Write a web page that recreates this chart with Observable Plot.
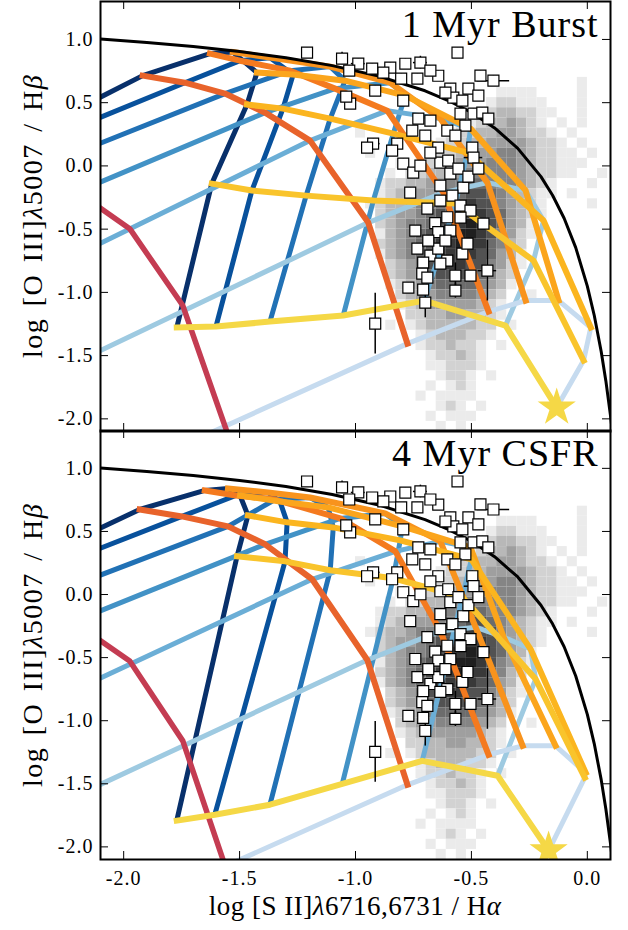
<!DOCTYPE html>
<html>
<head>
<meta charset="utf-8">
<script src="https://cdn.jsdelivr.net/npm/d3@7"></script>
<script src="https://cdn.jsdelivr.net/npm/@observablehq/plot@0.6"></script>
<style>
  html, body { margin: 0; padding: 0; background: #fff; }
  #fig { position: relative; width: 628px; height: 930px; font-family: "Liberation Serif", "Times New Roman", serif; color: #000; }
  .panel { position: absolute; left: 0; }
  .ylab, .xlab { position: absolute; white-space: nowrap; line-height: 1; }
  .ylab { left: 33px; font-size: 28px; letter-spacing: 1.5px; word-spacing: 3px; transform: translate(-50%, -50%) rotate(-90deg); }
  .xlab { left: 355px; top: 906px; font-size: 27px; letter-spacing: 0.5px; transform: translate(-50%, -50%); }
</style>
</head>
<body>
<div id="fig"></div>
<script>
// ---------------- data ----------------
const xDomain = [-2.1, 0.1];
const yDomain = [-2.1, 1.3];
const xTicks = [-2.0, -1.5, -1.0, -0.5, 0.0];
const yTicks = [1.0, 0.5, 0.0, -0.5, -1.0, -1.5, -2.0];
const panelTitles = ["1 Myr Burst", "4 Myr CSFR"];

const blueColors = ["#08306b", "#08519c", "#2171b5", "#4292c6", "#6baed6", "#9ecae1", "#c6dbef"];
const orangeColors = [null, "#e8632b", "#f47a1f", "#f8931d", "#fba51c", "#fbb51f", "#f9c42c", "#f5d846"];
const redColor = "#c43c52";
const starColor = "#f5d846";

// model grid, 1 Myr burst: 7 blue lines, each 8 vertices (0 = start, 1..7 on the orange lines)
const burstGrid = [
  [[-2.147, 0.500], [-1.918, 0.714], [-1.628, 0.888], [-1.529, 0.900], [-1.425, 0.738], [-1.468, 0.485], [-1.620, -0.140], [-1.771, -1.278]],
  [[-2.147, 0.349], [-1.736, 0.658], [-1.498, 0.832], [-1.369, 0.856], [-1.269, 0.722], [-1.313, 0.453], [-1.447, -0.195], [-1.602, -1.270]],
  [[-2.147, 0.145], [-1.563, 0.572], [-1.282, 0.753], [-1.109, 0.785], [-1.045, 0.674], [-1.109, 0.374], [-1.213, -0.235], [-1.369, -1.231]],
  [[-2.147, -0.164], [-1.390, 0.421], [-1.088, 0.611], [-0.850, 0.658], [-0.785, 0.556], [-0.837, 0.255], [-0.923, -0.274], [-1.053, -1.183]],
  [[-2.147, -0.654], [-1.196, 0.200], [-0.863, 0.437], [-0.634, 0.374], [-0.504, 0.295], [-0.517, 0.105], [-0.569, -0.298], [-0.703, -1.065]],
  [[-2.147, -1.500], [-0.945, -0.448], [-0.621, -0.211], [-0.431, -0.132], [-0.266, -0.195], [-0.189, -0.432], [-0.232, -0.749], [-0.353, -1.262]],
  [[-1.671, -2.148], [-0.776, -1.405], [-0.426, -1.152], [-0.266, -1.065], [-0.124, -1.065], [0.015, -1.278], [-0.016, -1.539], [-0.132, -1.911]]
];
const burstRed = [[-2.320, 0.042], [-2.203, -0.203], [-1.974, -0.496], [-1.745, -1.104], [-1.555, -2.100], [-1.520, -2.290]];
const burstStar = [-0.132, -1.911];

// model grid, 4 Myr CSFR
const csfrGrid = [
  [[-2.147, 0.487], [-1.931, 0.674], [-1.650, 0.825], [-1.550, 0.840], [-1.498, 0.785], [-1.464, 0.627], [-1.511, 0.303], [-1.771, -1.792]],
  [[-2.147, 0.334], [-1.749, 0.619], [-1.516, 0.785], [-1.377, 0.809], [-1.326, 0.738], [-1.295, 0.572], [-1.304, 0.263], [-1.607, -1.745]],
  [[-2.147, 0.121], [-1.550, 0.540], [-1.347, 0.753], [-1.196, 0.769], [-1.118, 0.690], [-1.096, 0.532], [-1.109, 0.192], [-1.369, -1.666]],
  [[-2.147, -0.164], [-1.390, 0.398], [-1.066, 0.603], [-0.872, 0.643], [-0.798, 0.540], [-0.807, 0.429], [-0.837, 0.129], [-1.057, -1.500]],
  [[-2.147, -0.701], [-1.187, 0.121], [-0.828, 0.342], [-0.634, 0.421], [-0.504, 0.374], [-0.500, 0.279], [-0.539, -0.021], [-0.712, -1.318]],
  [[-2.147, -1.545], [-0.949, -0.519], [-0.634, -0.290], [-0.482, -0.259], [-0.361, -0.338], [-0.245, -0.432], [-0.223, -0.670], [-0.387, -1.436]],
  [[-1.671, -2.243], [-0.776, -1.508], [-0.426, -1.270], [-0.279, -1.199], [-0.137, -1.199], [-0.007, -1.413], [-0.011, -1.452], [-0.167, -2.029]]
];
const csfrRed = [[-2.320, -0.022], [-2.203, -0.235], [-1.974, -0.527], [-1.745, -1.160], [-1.572, -2.100], [-1.529, -2.345]];
const csfrStar = [-0.167, -2.029];

// maximum starburst line (black)
const kewleyX = [-2.2, -2.1, -1.9, -1.7, -1.5, -1.3, -1.1, -0.9, -0.7, -0.6, -0.5, -0.4, -0.3, -0.2, -0.15, -0.1, -0.05, 0.0, 0.03, 0.06, 0.08, 0.1, 0.12];
const kewleyY = [1.014, 1.003, 0.976, 0.944, 0.904, 0.856, 0.793, 0.710, 0.594, 0.517, 0.422, 0.300, 0.139, -0.085, -0.232, -0.414, -0.646, -0.950, -1.183, -1.469, -1.700, -1.973, -2.300];

// SDSS 2D histogram: gray level per cell (0 = empty), rows from top (high y) to bottom
const histX0 = -1.0, histDX = 0.0435, histY0 = -2.1, histDY = 0.08;
const histRows = [
  "000000000000000000000000000",
  "000000000000000000000010000",
  "000000000000001111000010000",
  "000000000000012211100010000",
  "000000000000123322110010000",
  "000000000001233432101010000",
  "100000000122334432210100000",
  "000000001223344443221010000",
  "010000012233445543221101000",
  "000010123344455543221110000",
  "000102233445555543221100100",
  "001223344556655543210001000",
  "001233445667765432110100000",
  "012334556778775432100001000",
  "002344567788876432100000000",
  "002345567889876431000000000",
  "001345677899875421000000000",
  "002345678898865320000000000",
  "001345678888764310000000000",
  "000234677887754210000000000",
  "000234567777653200000000000",
  "000123456666543100000000000",
  "000023445555432001000000000",
  "000012344444321000000000000",
  "000002233443321000000000000",
  "000101233333220100000000000",
  "000000123332210000000000000",
  "000000122322101000000000000",
  "000000012232100000000000000",
  "000000011222100000000000000",
  "000000001221010000000000000",
  "000000010121000000000000000",
  "000000101111000000000000000",
  "000000001210100000000000000",
  "000000010111000000000000000",
  "000000001010000000000000000"
];

// observed galaxies: [x, y, xerr, yerr]
const obsPoints = [
  [-1.209, 0.896, 0.02, 0.04], [-1.058, 0.849, 0.02, 0.05], [-0.988, 0.809, 0.03, 0.04], [-1.027, 0.753, 0.02, 0.04],
  [-1.023, 0.492, 0.02, 0.04], [-1.040, 0.548, 0.02, 0.04], [-0.850, 0.777, 0.02, 0.04], [-0.720, 0.817, 0.03, 0.05],
  [-0.560, 0.896, 0.02, 0.04], [-0.405, 0.674, 0.07, 0.04], [-0.643, 0.713, 0.02, 0.04], [-0.591, 0.611, 0.02, 0.04],
  [-0.513, 0.611, 0.02, 0.04], [-0.578, 0.540, 0.02, 0.04], [-0.491, 0.413, 0.02, 0.04], [-0.880, 0.738, 0.02, 0.04],
  [-0.803, 0.690, 0.02, 0.04], [-0.733, 0.690, 0.02, 0.04], [-0.794, 0.516, 0.02, 0.04], [-0.729, 0.374, 0.02, 0.04],
  [-0.677, 0.358, 0.02, 0.04], [-0.924, 0.176, 0.03, 0.04], [-0.950, 0.145, 0.02, 0.04], [-0.820, 0.176, 0.02, 0.04],
  [-0.794, 0.018, 0.02, 0.04], [-0.751, -0.053, 0.02, 0.04], [-0.634, 0.026, 0.02, 0.04], [-0.600, 0.042, 0.02, 0.04],
  [-0.604, 0.279, 0.02, 0.04], [-0.547, 0.413, 0.02, 0.04], [-0.764, -0.211, 0.02, 0.04], [-0.690, -0.338, 0.02, 0.04],
  [-0.496, 0.145, 0.02, 0.04], [-0.491, 0.066, 0.04, 0.04], [-0.643, 0.145, 0.02, 0.04], [-0.591, -0.061, 0.02, 0.04],
  [-0.535, -0.172, 0.02, 0.04], [-0.656, -0.453, 0.02, 0.04], [-0.604, -0.406, 0.02, 0.04], [-0.643, -0.524, 0.02, 0.04],
  [-0.733, -0.654, 0.02, 0.04], [-0.677, -0.709, 0.02, 0.04], [-0.604, -0.749, 0.02, 0.04], [-0.643, -0.654, 0.02, 0.04],
  [-0.708, -0.765, 0.02, 0.04], [-0.712, -0.852, 0.02, 0.04], [-0.690, -0.883, 0.02, 0.04], [-0.772, -0.962, 0.02, 0.04],
  [-0.708, -0.978, 0.02, 0.04], [-0.699, -1.081, 0.02, 0.12], [-0.569, -0.867, 0.02, 0.10], [-0.539, -0.693, 0.02, 0.04],
  [-0.431, -0.828, 0.04, 0.24], [-0.915, -1.247, 0.02, 0.24], [-0.928, 0.769, 0.02, 0.04], [-0.612, 0.579, 0.02, 0.04],
  [-0.539, 0.516, 0.02, 0.04], [-0.470, 0.556, 0.02, 0.04], [-0.453, 0.421, 0.02, 0.04], [-0.526, 0.318, 0.02, 0.04],
  [-0.569, 0.239, 0.02, 0.04], [-0.427, 0.374, 0.02, 0.04], [-0.699, 0.239, 0.02, 0.04], [-0.755, 0.279, 0.02, 0.04],
  [-0.842, 0.121, 0.02, 0.04], [-0.677, 0.105, 0.02, 0.04], [-0.720, 0.002, 0.02, 0.04], [-0.556, -0.021, 0.02, 0.04],
  [-0.513, -0.084, 0.02, 0.04], [-0.634, -0.156, 0.02, 0.04], [-0.582, -0.235, 0.02, 0.04], [-0.470, -0.021, 0.02, 0.04],
  [-0.634, -0.274, 0.02, 0.04], [-0.547, -0.314, 0.02, 0.04], [-0.504, -0.354, 0.02, 0.04], [-0.591, -0.512, 0.02, 0.04],
  [-0.612, -0.591, 0.02, 0.04], [-0.547, -0.409, 0.02, 0.04], [-0.517, -0.614, 0.02, 0.04], [-0.448, -0.456, 0.02, 0.04],
  [-0.634, -0.772, 0.02, 0.04], [-0.569, -0.986, 0.02, 0.06], [-0.504, -0.867, 0.02, 0.04], [-0.742, -0.511, 0.02, 0.04],
  [-0.686, -0.591, 0.02, 0.04], [-0.785, 0.808, 0.02, 0.04], [-0.677, 0.753, 0.02, 0.04], [-0.461, 0.714, 0.02, 0.04],
  [-0.915, 0.595, 0.02, 0.04]
];

// ---------------- build ----------------
const kewley = kewleyX.map((x, k) => [x, kewleyY[k]]);
const histCells = [];
histRows.forEach((row, k) => {
  const r = histRows.length - 1 - k;
  [...row].forEach((ch, c) => {
    const v = +ch;
    if (v > 0) histCells.push({x1: histX0 + c * histDX, x2: histX0 + (c + 1) * histDX, y1: histY0 + r * histDY, y2: histY0 + (r + 1) * histDY, v});
  });
});
const obs = obsPoints.map(([x, y, ex, ey]) => ({x, y, ex, ey}));

const W = 628, ML = 100, MR = 18, MT = 1;
const px = d => d[0], py = d => d[1];
const fmt = d => d.toFixed(1);

function makePanel({grid, red, star, title, showX}) {
  const MB = showX ? 71 : 1;
  const H = showX ? 501 : 432;
  const frameH = H - MT - MB;
  const frameW = W - ML - MR;
  const marks = [
    Plot.rect(histCells, {x1: "x1", x2: "x2", y1: "y1", y2: "y2", fill: "v", clip: true}),
    ...grid.map((row, i) => Plot.line(row, {x: px, y: py, stroke: blueColors[i], strokeWidth: 5, strokeLinejoin: "round", strokeLinecap: "butt", clip: true})),
    Plot.line(red, {x: px, y: py, stroke: redColor, strokeWidth: 5.5, strokeLinejoin: "round", clip: true}),
    ...[1, 2, 3, 4, 5, 6, 7].map(j => Plot.line(grid.map(r => r[j]), {x: px, y: py, stroke: orangeColors[j], strokeWidth: 6, strokeLinejoin: "round", strokeLinecap: "square", clip: true})),
    Plot.line(kewley, {x: px, y: py, stroke: "black", strokeWidth: 3, clip: true}),
    Plot.ruleX(obs, {x: "x", y1: d => d.y - d.ey, y2: d => d.y + d.ey, stroke: "black", strokeWidth: 1.5, clip: true}),
    Plot.ruleY(obs, {y: "y", x1: d => d.x - d.ex, x2: d => d.x + d.ex, stroke: "black", strokeWidth: 1.5, clip: true}),
    Plot.dot(obs, {x: "x", y: "y", symbol: "square", r: 6.2, fill: "white", stroke: "black", strokeWidth: 1.2, clip: true}),
    Plot.dot([star], {x: px, y: py, symbol: "star", r: 12, fill: starColor, clip: true}),
    Plot.ruleX(xTicks, {x: d => d, insetTop: frameH - 8, stroke: "black", strokeWidth: 1}),
    Plot.ruleX(xTicks, {x: d => d, insetBottom: frameH - 8, stroke: "black", strokeWidth: 1}),
    Plot.ruleY(yTicks, {y: d => d, insetRight: frameW - 8, stroke: "black", strokeWidth: 1}),
    Plot.ruleY(yTicks, {y: d => d, insetLeft: frameW - 8, stroke: "black", strokeWidth: 1}),
    Plot.frame({stroke: "black", strokeWidth: 2}),
    Plot.axisY({ticks: yTicks, tickSize: 0, tickPadding: 7, tickFormat: fmt, label: null}),
    Plot.text([title], {frameAnchor: "top-right", dx: -12, dy: 9, lineAnchor: "top", textAnchor: "end", fontSize: 38, fontFamily: "Liberation Serif", letterSpacing: 1.5})
  ];
  if (showX) marks.push(Plot.axisX({ticks: xTicks, tickSize: 0, tickPadding: 11, tickFormat: fmt, label: null}));
  return Plot.plot({
    width: W, height: H,
    marginLeft: ML, marginRight: MR, marginTop: MT, marginBottom: MB,
    x: {domain: xDomain, axis: showX ? undefined : null},
    y: {domain: yDomain},
    color: {type: "linear", domain: [1, 9], range: ["#ebebeb", "#1f1f1f"]},
    style: {background: "transparent", fontFamily: "Liberation Serif", fontSize: "20px", color: "black", overflow: "visible"},
    marks
  });
}

const fig = document.getElementById("fig");
const p1 = makePanel({grid: burstGrid, red: burstRed, star: burstStar, title: panelTitles[0], showX: false});
p1.classList.add("panel"); p1.style.top = "0px";
const p2 = makePanel({grid: csfrGrid, red: csfrRed, star: csfrStar, title: panelTitles[1], showX: true});
p2.classList.add("panel"); p2.style.top = "429px";
fig.appendChild(p1);
fig.appendChild(p2);
p1.querySelectorAll("text").forEach(t => t.setAttribute("letter-spacing", t.getAttribute("letter-spacing") || "1"));
p2.querySelectorAll("text").forEach(t => t.setAttribute("letter-spacing", t.getAttribute("letter-spacing") || "1"));

const yl1 = document.createElement("div");
yl1.className = "ylab"; yl1.style.top = "216px";
yl1.innerHTML = "log [O III]<i>λ</i>5007 / H<i>β</i>";
const yl2 = document.createElement("div");
yl2.className = "ylab"; yl2.style.top = "645px";
yl2.innerHTML = "log [O III]<i>λ</i>5007 / H<i>β</i>";
const xl = document.createElement("div");
xl.className = "xlab";
xl.innerHTML = "log [S II]<i>λ</i>6716,6731 / H<i>α</i>";
fig.appendChild(yl1); fig.appendChild(yl2); fig.appendChild(xl);
</script>
</body>
</html>
